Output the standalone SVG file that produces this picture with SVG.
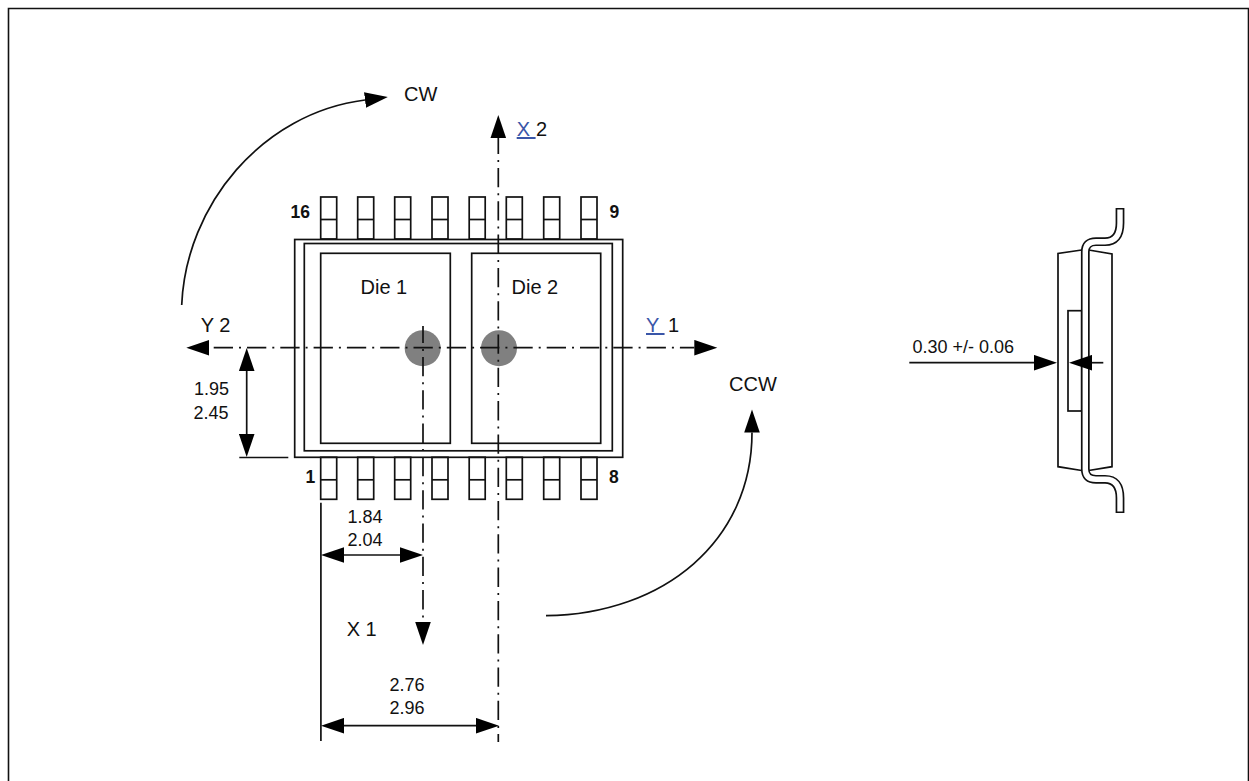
<svg xmlns="http://www.w3.org/2000/svg" width="1249" height="781" viewBox="0 0 1249 781">
<style>
text{font-family:"Liberation Sans",Arial,sans-serif;fill:#111}
.lb{font-size:20px}.dm{font-size:18px}.pn{font-size:17.5px;font-weight:bold}
.ol{fill:none;stroke:#111;stroke-width:1.7}
.bx{fill:#fff;stroke:#111;stroke-width:1.7}
.ax{fill:none;stroke:#111;stroke-width:1.7;stroke-dasharray:19.3 6 2 6}
.ln{fill:none;stroke:#111;stroke-width:1.7}
.ar{fill:none;stroke:#111;stroke-width:1.7;marker-end:url(#head)}
.ar2{fill:none;stroke:#111;stroke-width:1.7;marker-start:url(#head);marker-end:url(#head)}
.lk{fill:#3a56a8;text-decoration:underline}
</style>
<defs>
<marker id="head" markerUnits="userSpaceOnUse" markerWidth="24" markerHeight="16" refX="0" refY="8" orient="auto-start-reverse"><path d="M0 .2L23 8L0 15.8z" fill="#000"/></marker>
<g id="pin"><rect class="bx" x="0" y="0" width="16" height="42"/><path class="ln" d="M0 22.5H16"/></g>
</defs>
<path id="frame" d="M8.5 781V8.5H1248.5V781" fill="none" stroke="#111" stroke-width="1.6"/>
<g id="pins-top">
<use href="#pin" x="320.7" y="197"/><use href="#pin" x="357.7" y="197"/><use href="#pin" x="394.7" y="197"/><use href="#pin" x="432" y="197"/><use href="#pin" x="469.2" y="197"/><use href="#pin" x="506.3" y="197"/><use href="#pin" x="543.7" y="197"/><use href="#pin" x="581" y="197"/>
</g>
<g id="pins-bottom">
<use href="#pin" x="320.7" y="457.3"/><use href="#pin" x="357.7" y="457.3"/><use href="#pin" x="394.7" y="457.3"/><use href="#pin" x="432" y="457.3"/><use href="#pin" x="469.2" y="457.3"/><use href="#pin" x="506.3" y="457.3"/><use href="#pin" x="543.7" y="457.3"/><use href="#pin" x="581" y="457.3"/>
</g>
<g id="package">
<rect class="ol" x="294.7" y="239.5" width="328" height="217.8"/>
<rect class="ol" x="304.3" y="243.5" width="308" height="207.3"/>
</g>
<g id="die1">
<rect class="ol" x="320.7" y="253.3" width="129.6" height="190"/>
<text class="lb" x="360.5" y="294">Die 1</text>
<circle cx="422.7" cy="348.2" r="18" fill="#808080"/>
</g>
<g id="die2">
<rect class="ol" x="471.7" y="253.3" width="129" height="190"/>
<text class="lb" x="511.5" y="294">Die 2</text>
<circle cx="499" cy="348.2" r="18" fill="#808080"/>
</g>
<g id="side-view">
<path class="ol" d="M1081.7 250L1058 253.5V466.7L1081.7 470.5M1088.7 250L1112 254V466.7L1088.7 470.5"/>
<rect class="ol" x="1068" y="310.7" width="13.7" height="100.3"/>
<path d="M1120 208V223Q1120 241.7 1105 241.7H1096Q1085.3 241.7 1085.3 252V469Q1085.3 479.3 1096 479.3H1105Q1120 479.3 1120 498V513" fill="none" stroke="#111" stroke-width="8.8"/>
<path d="M1120 209.6V223Q1120 241.7 1105 241.7H1096Q1085.3 241.7 1085.3 252V469Q1085.3 479.3 1096 479.3H1105Q1120 479.3 1120 498V511.4" fill="none" stroke="#fff" stroke-width="5.4"/>
</g>
<g id="connectors">
<path class="ax" d="M209.3 347.7H694.3" stroke-dashoffset="28.9" style="marker-start:url(#head);marker-end:url(#head)"/>
<path class="ax" d="M498.3 138V742" stroke-dashoffset="3.3" style="marker-start:url(#head)"/>
<path class="ax" d="M423 326V622" stroke-dashoffset="2.3" style="marker-end:url(#head)"/>
<path class="ar" d="M181.7 305C186 205 262 113 365 100"/>
<path class="ar" d="M546 615.7C665 614 752 540 752 432.5"/>
<path class="ar2" d="M246.7 371V434"/>
<path class="ln" d="M239.3 457.5H288.3"/>
<path class="ln" d="M320.9 502.7V741"/>
<path class="ar2" d="M344 555H400"/>
<path class="ar2" d="M344 725.7H476"/>
<path class="ar" d="M909.3 362.7H1034"/>
<path class="ar" d="M1103.3 362.7H1092"/>
</g>
<g id="labels">
<text class="lb" x="404" y="101">CW</text>
<text class="lb" x="729" y="390.7">CCW</text>
<text class="lb" x="200.7" y="332">Y 2</text>
<text class="lb" x="346.7" y="636">X 1</text>
<text class="lb" x="646" y="332" xml:space="preserve"><tspan class="lk">Y </tspan></text>
<text class="lb" x="668" y="332">1</text>
<text class="lb" x="516.7" y="136" xml:space="preserve"><tspan class="lk">X </tspan></text>
<text class="lb" x="536" y="136">2</text>
<text class="dm" x="194" y="395">1.95</text>
<text class="dm" x="193.5" y="419">2.45</text>
<text class="dm" x="347.5" y="522.7">1.84</text>
<text class="dm" x="347.5" y="545.7">2.04</text>
<text class="dm" x="389.5" y="691">2.76</text>
<text class="dm" x="389.5" y="714.3">2.96</text>
<text class="dm" x="912.5" y="353.3">0.30 +/- 0.06</text>
<text class="pn" x="290.5" y="217.7">16</text>
<text class="pn" x="609.5" y="217.7">9</text>
<text class="pn" x="305.5" y="483.3">1</text>
<text class="pn" x="609" y="483.3">8</text>
</g>
</svg>
